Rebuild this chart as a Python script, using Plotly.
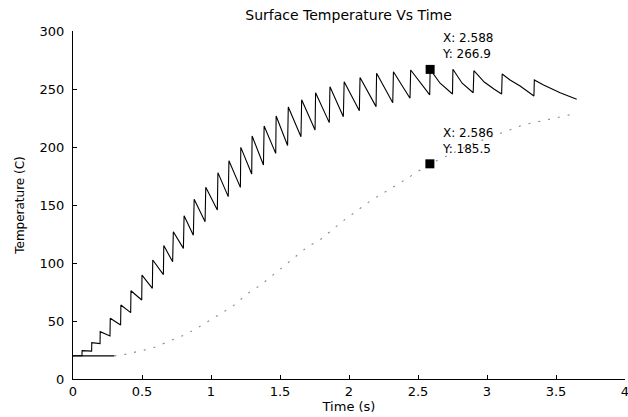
import plotly.graph_objects as go

# Surface temperature (sawtooth) vertices
surf_t = [0, 0.065, 0.066, 0.135, 0.136, 0.196, 0.197, 0.268, 0.270, 0.345, 0.347,
          0.418, 0.420, 0.498, 0.500, 0.575, 0.578, 0.655, 0.658, 0.722, 0.727,
          0.800, 0.805, 0.872, 0.878, 0.957, 0.962, 1.046, 1.050, 1.125, 1.130,
          1.213, 1.216, 1.295, 1.298, 1.380, 1.385, 1.469, 1.472, 1.555, 1.560,
          1.652, 1.657, 1.754, 1.758, 1.857, 1.862, 1.959, 1.965, 2.075, 2.080,
          2.196, 2.200, 2.317, 2.322, 2.442, 2.447, 2.585, 2.588, 2.660, 2.750,
          2.753, 2.820, 2.900, 2.905, 2.980, 3.050, 3.106, 3.110, 3.167, 3.240,
          3.340, 3.343, 3.410, 3.530, 3.650]
surf_T = [20, 20, 24.4, 24.0, 31.3, 30.5, 40.8, 37.1, 52.3, 46.5, 63.8,
          57.2, 76.1, 68.1, 89.6, 78.2, 102.6, 90.0, 115.0, 101.0, 127.0,
          112.6, 140.8, 124.0, 154.9, 135.6, 165.2, 145.7, 177.9, 157.2, 188.2,
          165.2, 199.7, 176.7, 209.5, 184.5, 218.1, 194.5, 226.7, 201.3, 234.5,
          208.9, 240.8, 214.7, 246.8, 221.0, 252.0, 226.1, 256.3, 231.3, 260.0,
          234.8, 263.5, 238.2, 264.9, 242.0, 266.4, 245.0, 266.9, 255.0, 245.7,
          267.0, 255.0, 246.8, 265.8, 256.0, 250.0, 245.7, 262.9, 257.8, 252.6,
          244.0, 257.8, 253.4, 246.8, 241.1]

# Core temperature (dotted lower curve)
core_start_t = [0, 0.30]
core_start_T = [20, 20]
core_t = [0.30, 0.35, 0.57, 0.81, 0.90, 1.00, 1.08, 1.16, 1.28, 1.36, 1.70,
          1.79, 1.96, 2.16, 2.37, 2.586, 2.90, 3.26, 3.45, 3.65]
core_T = [20, 20.5, 26.4, 38.0, 44.0, 51.0, 57.0, 63.0, 75.0, 81.0, 114.0,
          120.0, 136.5, 154.0, 169.0, 185.5, 203.0, 219.0, 224.0, 229.0]

# Data tips
tip_x = [2.588, 2.586]
tip_y = [266.9, 185.5]
tip_xlabel = ["2.588", "2.586"]
tip_ylabel = ["266.9", "185.5"]

x_ticks = [0, 0.5, 1, 1.5, 2, 2.5, 3, 3.5, 4]
x_ticktext = ["0", "0.5", "1", "1.5", "2", "2.5", "3", "3.5", "4"]
y_ticks = [0, 50, 100, 150, 200, 250, 300]

FONT = "DejaVu Sans"

fig = go.Figure()
fig.add_trace(go.Scatter(x=surf_t, y=surf_T, mode="lines",
                         line=dict(color="black", width=1.1), showlegend=False))
fig.add_trace(go.Scatter(x=core_start_t, y=core_start_T, mode="lines",
                         line=dict(color="black", width=1.3), showlegend=False))
fig.add_trace(go.Scatter(x=core_t, y=core_T, mode="lines",
                         line=dict(color="#8a8a8a", width=1.1, dash="2px,8px"),
                         showlegend=False))
fig.add_trace(go.Scatter(x=tip_x, y=tip_y, mode="markers",
                         marker=dict(symbol="square", size=9, color="black"),
                         showlegend=False))

for xv, yv, xl, yl in zip(tip_x, tip_y, tip_xlabel, tip_ylabel):
    fig.add_annotation(x=xv, y=yv, xref="x", yref="y",
                       text=f"X: {xl}<br>Y: {yl}", showarrow=False,
                       xanchor="left", yanchor="middle", align="left",
                       xshift=10, yshift=23,
                       font=dict(family=FONT, size=12, color="black"))

fig.update_layout(
    width=628, height=417,
    template="none",
    paper_bgcolor="white", plot_bgcolor="white",
    margin=dict(l=73, r=3, t=31, b=38),
    title=dict(text="Surface Temperature Vs Time", x=0.555, xanchor="center",
               y=0.964, yanchor="middle",
               font=dict(family=FONT, size=14, color="black")),
    font=dict(family=FONT, size=12, color="black"),
)
fig.update_xaxes(range=[0, 4], tickvals=x_ticks, ticktext=x_ticktext,
                 ticks="inside", ticklen=4, tickcolor="black", tickwidth=1,
                 ticklabeloverflow="allow",
                 showline=True, linecolor="black", linewidth=1, mirror=False,
                 showgrid=False, zeroline=False, automargin=False,
                 tickfont=dict(family=FONT, size=13, color="black"),
                 title=dict(text="Time (s)", standoff=0,
                            font=dict(family=FONT, size=13, color="black")))
fig.update_yaxes(range=[0, 300], tickvals=y_ticks,
                 ticks="inside", ticklen=4, tickcolor="black", tickwidth=1,
                 ticklabelstandoff=5,
                 showline=True, linecolor="black", linewidth=1, mirror=False,
                 showgrid=False, zeroline=False, automargin=False,
                 tickfont=dict(family=FONT, size=13, color="black"),
                 title=dict(text="Temperature (C)", standoff=12,
                            font=dict(family=FONT, size=12, color="black")))

fig.write_html("out.html", config={"displayModeBar": False},
               post_script="document.body.style.margin='0';document.body.style.overflow='hidden';")
